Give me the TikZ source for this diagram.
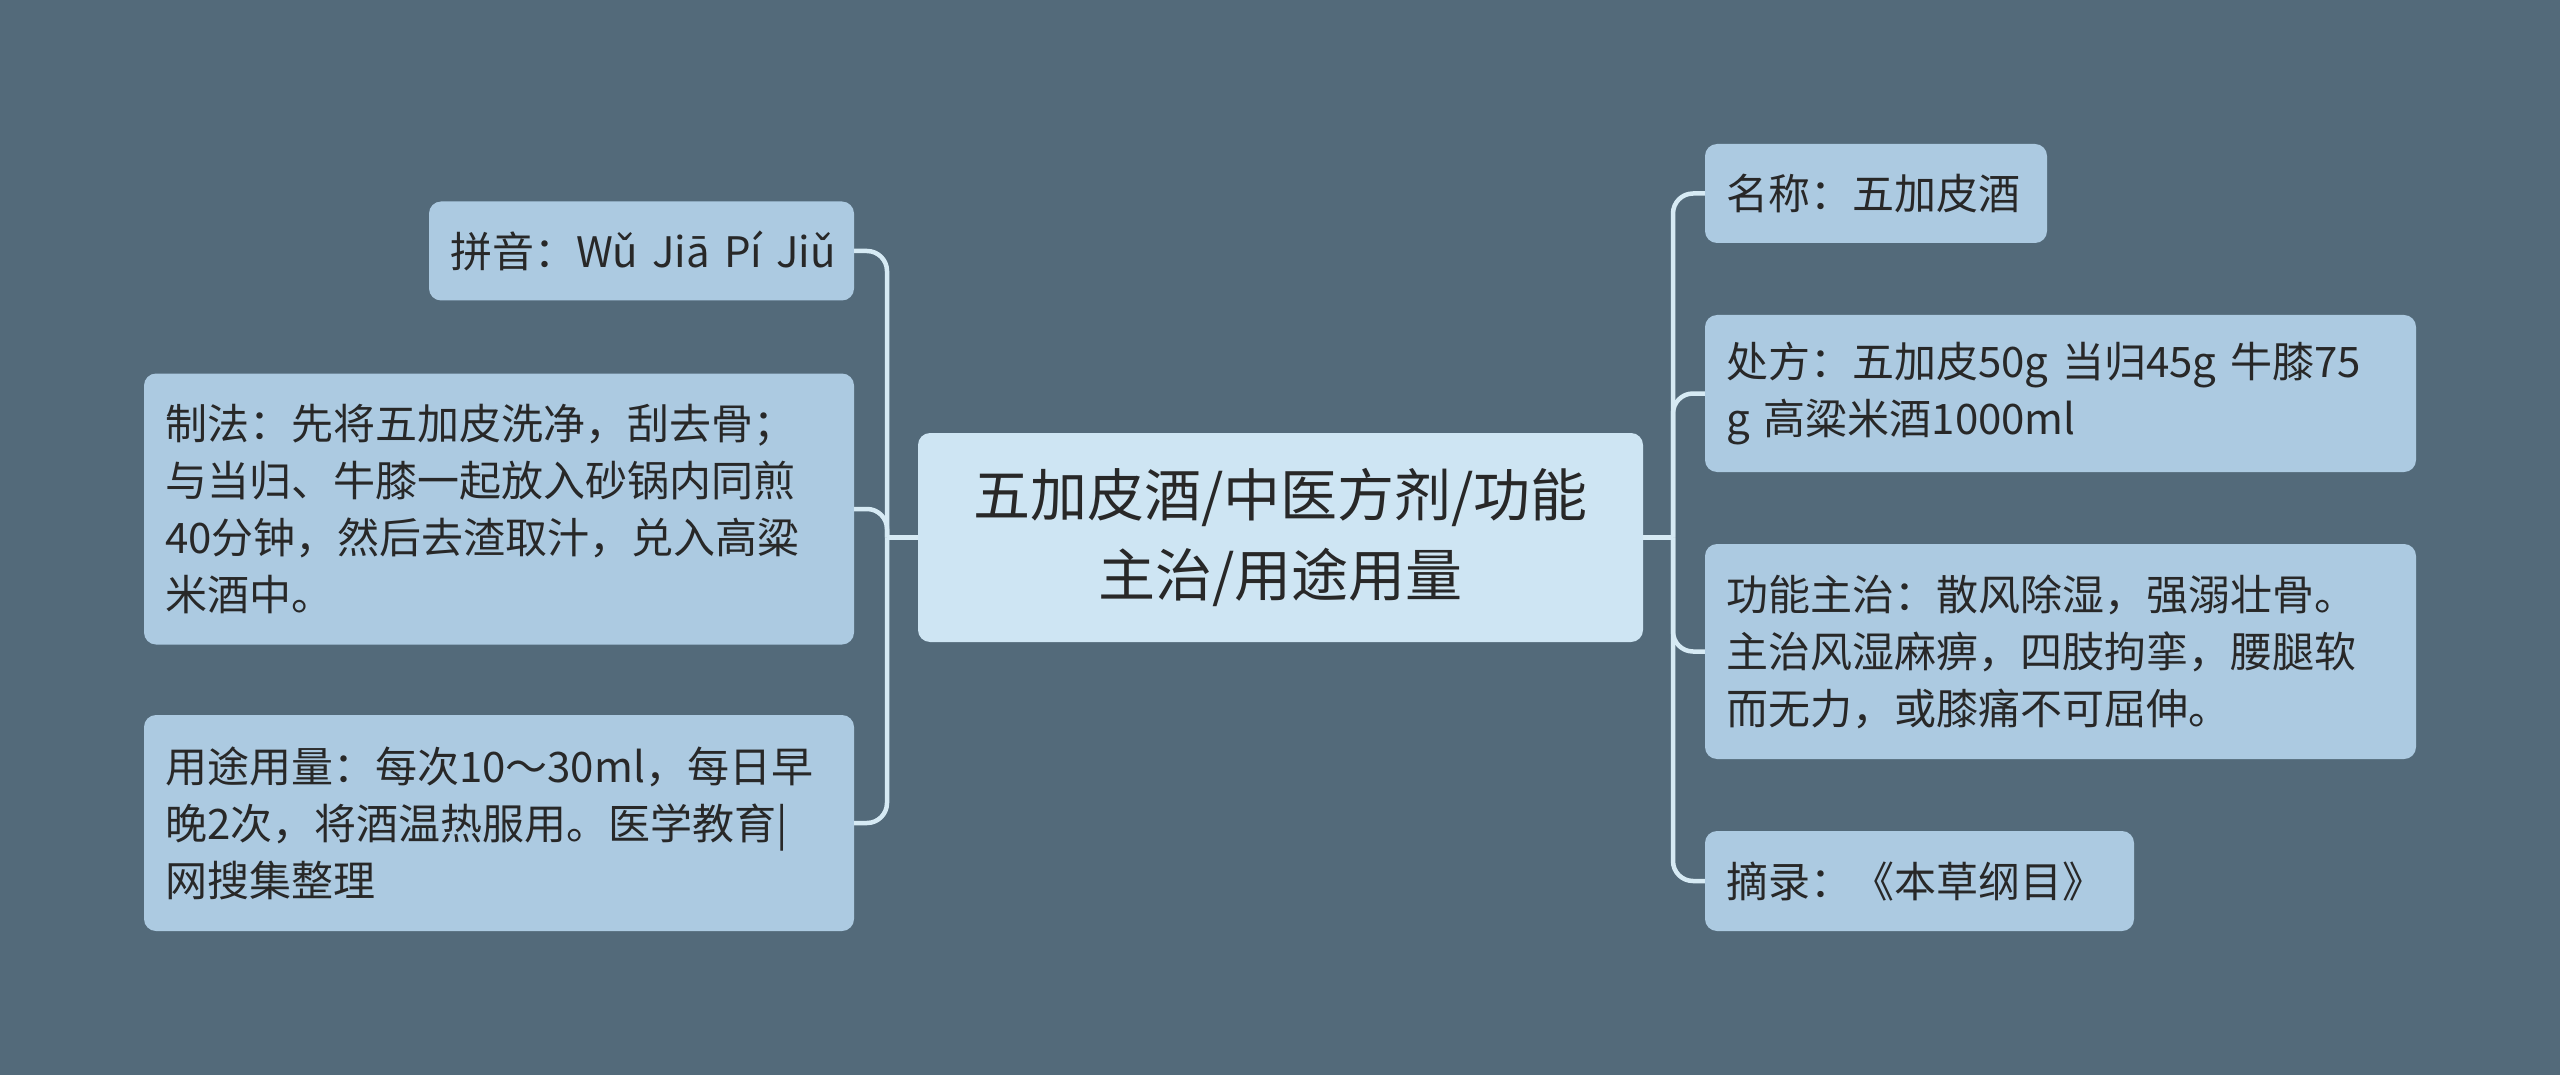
\documentclass[tikz,border=0pt]{standalone}
\usepackage{fontspec}
\setmainfont{Noto Sans CJK SC}
\definecolor{bgcol}{RGB}{83,106,122}
\definecolor{leafcol}{RGB}{172,202,225}
\definecolor{rootcol}{RGB}{206,229,243}
\definecolor{linecol}{RGB}{214,234,244}
\definecolor{txtcol}{RGB}{40,40,40}
\begin{document}
\begin{tikzpicture}[x=1pt,y=-1pt,
  leaf/.style={fill=leafcol, rounded corners=12pt, inner xsep=21pt, inner ysep=0pt,
    text=txtcol, align=left, font=\fontsize{42pt}{57pt}\selectfont},
  rootbox/.style={fill=rootcol, rounded corners=12pt, inner sep=0pt,
    text=txtcol, align=center, font=\fontsize{57pt}{80pt}\selectfont},
  conn/.style={draw=linecol, line width=4.5pt, rounded corners=20pt}]
\fill[bgcol] (0,0) rectangle (2560,1075);
\useasboundingbox (0,0) rectangle (2560,1075);

% root
\node[rootbox, minimum width=725pt, minimum height=209pt] (root) at (1280.5,537.5)
  {五加皮酒/中医方剂/功能\\主治/用途用量};

% left leaves
\node[leaf, minimum width=425pt, minimum height=99pt, text width=383pt] (py) at (641.5,251)
  {\mbox{拼音：Wǔ Jiā Pí Jiǔ}};
\node[leaf, minimum width=710pt, minimum height=271pt, text width=668pt] (zf) at (499,509)
  {制法：先将五加皮洗净，刮去骨；\\与当归、牛膝一起放入砂锅内同煎\\40分钟，然后去渣取汁，兑入高粱\\米酒中。};
\node[leaf, minimum width=710pt, minimum height=216pt, text width=668pt] (yt) at (499,823)
  {用途用量：每次10～30ml，每日早\\晚2次，将酒温热服用。医学教育|\\网搜集整理};

% right leaves
\node[leaf, minimum width=342pt, minimum height=99pt, text width=300pt] (mc) at (1876,193.5)
  {\mbox{名称：五加皮酒}};
\node[leaf, minimum width=711pt, minimum height=157pt, text width=669pt] (cf) at (2060.5,393.5)
  {\mbox{处方：五加皮50g 当归45g 牛膝75}\\g 高粱米酒1000ml};
\node[leaf, minimum width=711pt, minimum height=215pt, text width=669pt] (gn) at (2060.5,651.5)
  {功能主治：散风除湿，强溺壮骨。\\主治风湿麻痹，四肢拘挛，腰腿软\\而无力，或膝痛不可屈伸。};
\node[leaf, minimum width=429pt, minimum height=100pt, text width=387pt] (zl) at (1919.5,881)
  {\mbox{摘录：《本草纲目》}};

% junctions
\coordinate (jl) at (887,537.5);
\coordinate (jr) at (1673,537.5);

% connectors
\draw[conn] (root.west) -- (jl);
\draw[conn] (jl) |- (py.east);
\draw[conn] (jl) |- (zf.east);
\draw[conn] (jl) |- (yt.east);
\draw[conn] (root.east) -- (jr);
\draw[conn] (jr) |- (mc.west);
\draw[conn] (jr) |- (cf.west);
\draw[conn] (jr) |- (gn.west);
\draw[conn] (jr) |- (zl.west);
\end{tikzpicture}
\end{document}
